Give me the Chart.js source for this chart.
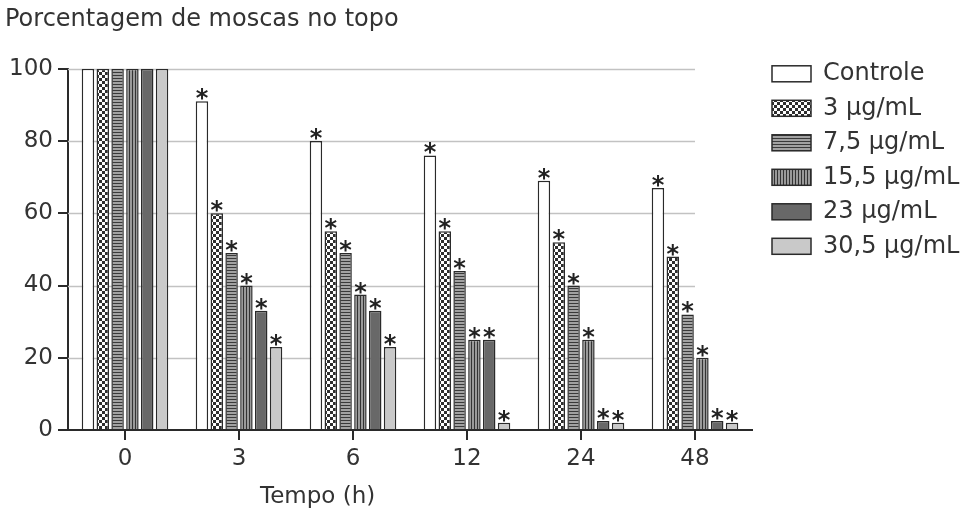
<!DOCTYPE html>
<html><head><meta charset="utf-8">
<script src="https://cdn.jsdelivr.net/npm/chart.js@4/dist/chart.umd.min.js"></script>
<style>html,body{margin:0;padding:0;background:#fff}#wrap{width:968px;height:513px;position:relative}</style>
</head><body><div id="wrap"><canvas id="c" width="968" height="513"></canvas></div>
<script>
// ---- data ----
const titleText = 'Porcentagem de moscas no topo';
const xTitle = 'Tempo (h)';
const categories = ['0', '3', '6', '12', '24', '48'];
const seriesNames = ['Controle', '3 µg/mL', '7,5 µg/mL', '15,5 µg/mL', '23 µg/mL', '30,5 µg/mL'];
const controle = [100, 91, 80, 76, 69, 67];
const ug3      = [100, 60, 55, 55, 52, 48];
const ug7_5    = [100, 49, 49, 44, 40, 32];
const ug15_5   = [100, 40, 37.5, 25, 25, 20];
const ug23     = [100, 33, 33, 25, 2.5, 2.5];
const ug30_5   = [100, 23, 23, 2, 2, 2];
const significant = [false, true, true, true, true, true];
const yTicks = [0, 20, 40, 60, 80, 100];
const values = [controle, ug3, ug7_5, ug15_5, ug23, ug30_5];

// ---- styles ----
const FONT = "'DejaVu Sans', Verdana, sans-serif";
const INK = '#2a2a2a';
const TXT = '#333333';

function makePattern(w, h, draw) {
  const c = document.createElement('canvas');
  c.width = w; c.height = h;
  const g = c.getContext('2d');
  draw(g);
  return document.getElementById('c').getContext('2d').createPattern(c, 'repeat');
}
const checker = makePattern(6, 6, g => {
  g.fillStyle = '#2e2e2e'; g.fillRect(0, 0, 6, 6);
  g.fillStyle = '#ffffff'; g.fillRect(0, 0, 3, 3); g.fillRect(3, 3, 3, 3);
});
const hStripes = makePattern(4, 3, g => {
  g.fillStyle = '#a2a2a2'; g.fillRect(0, 0, 4, 3);
  g.fillStyle = '#3a3a3a'; g.fillRect(0, 0, 4, 1);
});
const vStripes = makePattern(3, 4, g => {
  g.fillStyle = '#9a9a9a'; g.fillRect(0, 0, 3, 4);
  g.fillStyle = '#333333'; g.fillRect(0, 0, 1, 4);
});
const fills = ['#ffffff', checker, hStripes, vStripes, '#686868', '#c9c9c9'];

Chart.defaults.font.family = FONT;
Chart.defaults.color = TXT;

const gridPlugin = {
  id: 'partialGrid',
  beforeDatasetsDraw(chart) {
    const { ctx, chartArea } = chart;
    const ys = chart.scales.y, xs = chart.scales.x;
    const xr = xs.getPixelForValue(categories.length - 1);
    ctx.save();
    ctx.strokeStyle = '#c2c2c2';
    ctx.lineWidth = 1.5;
    yTicks.forEach(v => {
      if (v === 0) return;
      const py = Math.round(ys.getPixelForValue(v)) + 0.5;
      ctx.beginPath(); ctx.moveTo(chartArea.left, py); ctx.lineTo(xr, py); ctx.stroke();
    });
    ctx.restore();
  }
};

const starPlugin = {
  id: 'stars',
  afterDatasetsDraw(chart) {
    const ctx = chart.ctx;
    ctx.save();
    ctx.font = 'bold 24px ' + FONT;
    ctx.fillStyle = '#222';
    ctx.textAlign = 'center';
    ctx.textBaseline = 'alphabetic';
    const m = ctx.measureText('*');
    const off = (m.actualBoundingBoxAscent - m.actualBoundingBoxDescent) / 2;
    chart.data.datasets.forEach((ds, i) => {
      chart.getDatasetMeta(i).data.forEach((bar, j) => {
        if (!significant[j]) return;
        ctx.fillText('*', bar.x, bar.y - 7 + off);
      });
    });
    ctx.restore();
  }
};

const legendPlugin = {
  id: 'sideLegend',
  afterDraw(chart) {
    const { ctx, chartArea } = chart;
    ctx.save();
    ctx.font = '24px ' + FONT;
    ctx.textBaseline = 'middle';
    ctx.textAlign = 'left';
    const x0 = chartArea.right + 20;
    chart.data.datasets.forEach((ds, i) => {
      const cy = chartArea.top + 5 + i * 34.5;
      ctx.fillStyle = ds.backgroundColor;
      ctx.fillRect(x0, cy - 8, 39, 16);
      ctx.strokeStyle = INK; ctx.lineWidth = 1.5;
      ctx.strokeRect(x0, cy - 8, 39, 16);
      ctx.fillStyle = TXT;
      ctx.fillText(ds.label, x0 + 51, cy);
    });
    ctx.restore();
  }
};

const xTitlePlugin = {
  id: 'xTitle',
  afterDraw(chart) {
    const { ctx, chartArea } = chart;
    const xs = chart.scales.x;
    ctx.save();
    ctx.font = '23px ' + FONT;
    ctx.fillStyle = TXT;
    ctx.textAlign = 'center';
    ctx.textBaseline = 'middle';
    ctx.fillText(xTitle, chartArea.left + 0.365 * chartArea.width, xs.bottom - 16);
    ctx.restore();
  }
};

new Chart(document.getElementById('c'), {
  type: 'bar',
  data: {
    labels: categories,
    datasets: seriesNames.map((n, i) => ({
      label: n,
      data: values[i],
      backgroundColor: fills[i],
      borderColor: INK,
      borderWidth: 1.5,
      categoryPercentage: 0.78,
      barPercentage: 0.84
    }))
  },
  options: {
    responsive: false,
    animation: false,
    events: [],
    layout: { padding: { left: 5, right: 216, top: 0, bottom: 0 } },
    plugins: {
      legend: { display: false },
      tooltip: { enabled: false },
      title: {
        display: true, text: titleText, align: 'start', color: TXT,
        font: { size: 24, weight: 'normal' }, padding: { top: 5, bottom: 35 }
      }
    },
    scales: {
      x: {
        grid: { offset: false, drawOnChartArea: false, drawTicks: true, tickLength: 10, color: INK, lineWidth: 2 },
        border: { display: true, color: INK, width: 2 },
        ticks: { font: { size: 23 }, color: TXT, padding: 5, maxRotation: 0 },
        afterFit(s) { s.height = 83; }
      },
      y: {
        min: 0, max: 100,
        afterBuildTicks(s) { s.ticks = yTicks.map(v => ({ value: v })); },
        grid: { drawOnChartArea: false, drawTicks: true, tickLength: 10, color: INK, lineWidth: 2 },
        border: { display: true, color: INK, width: 2 },
        ticks: { font: { size: 23 }, color: TXT, padding: 5 },
        afterFit(s) { s.width = 63; }
      }
    }
  },
  plugins: [gridPlugin, starPlugin, legendPlugin, xTitlePlugin]
});
</script></body></html>
